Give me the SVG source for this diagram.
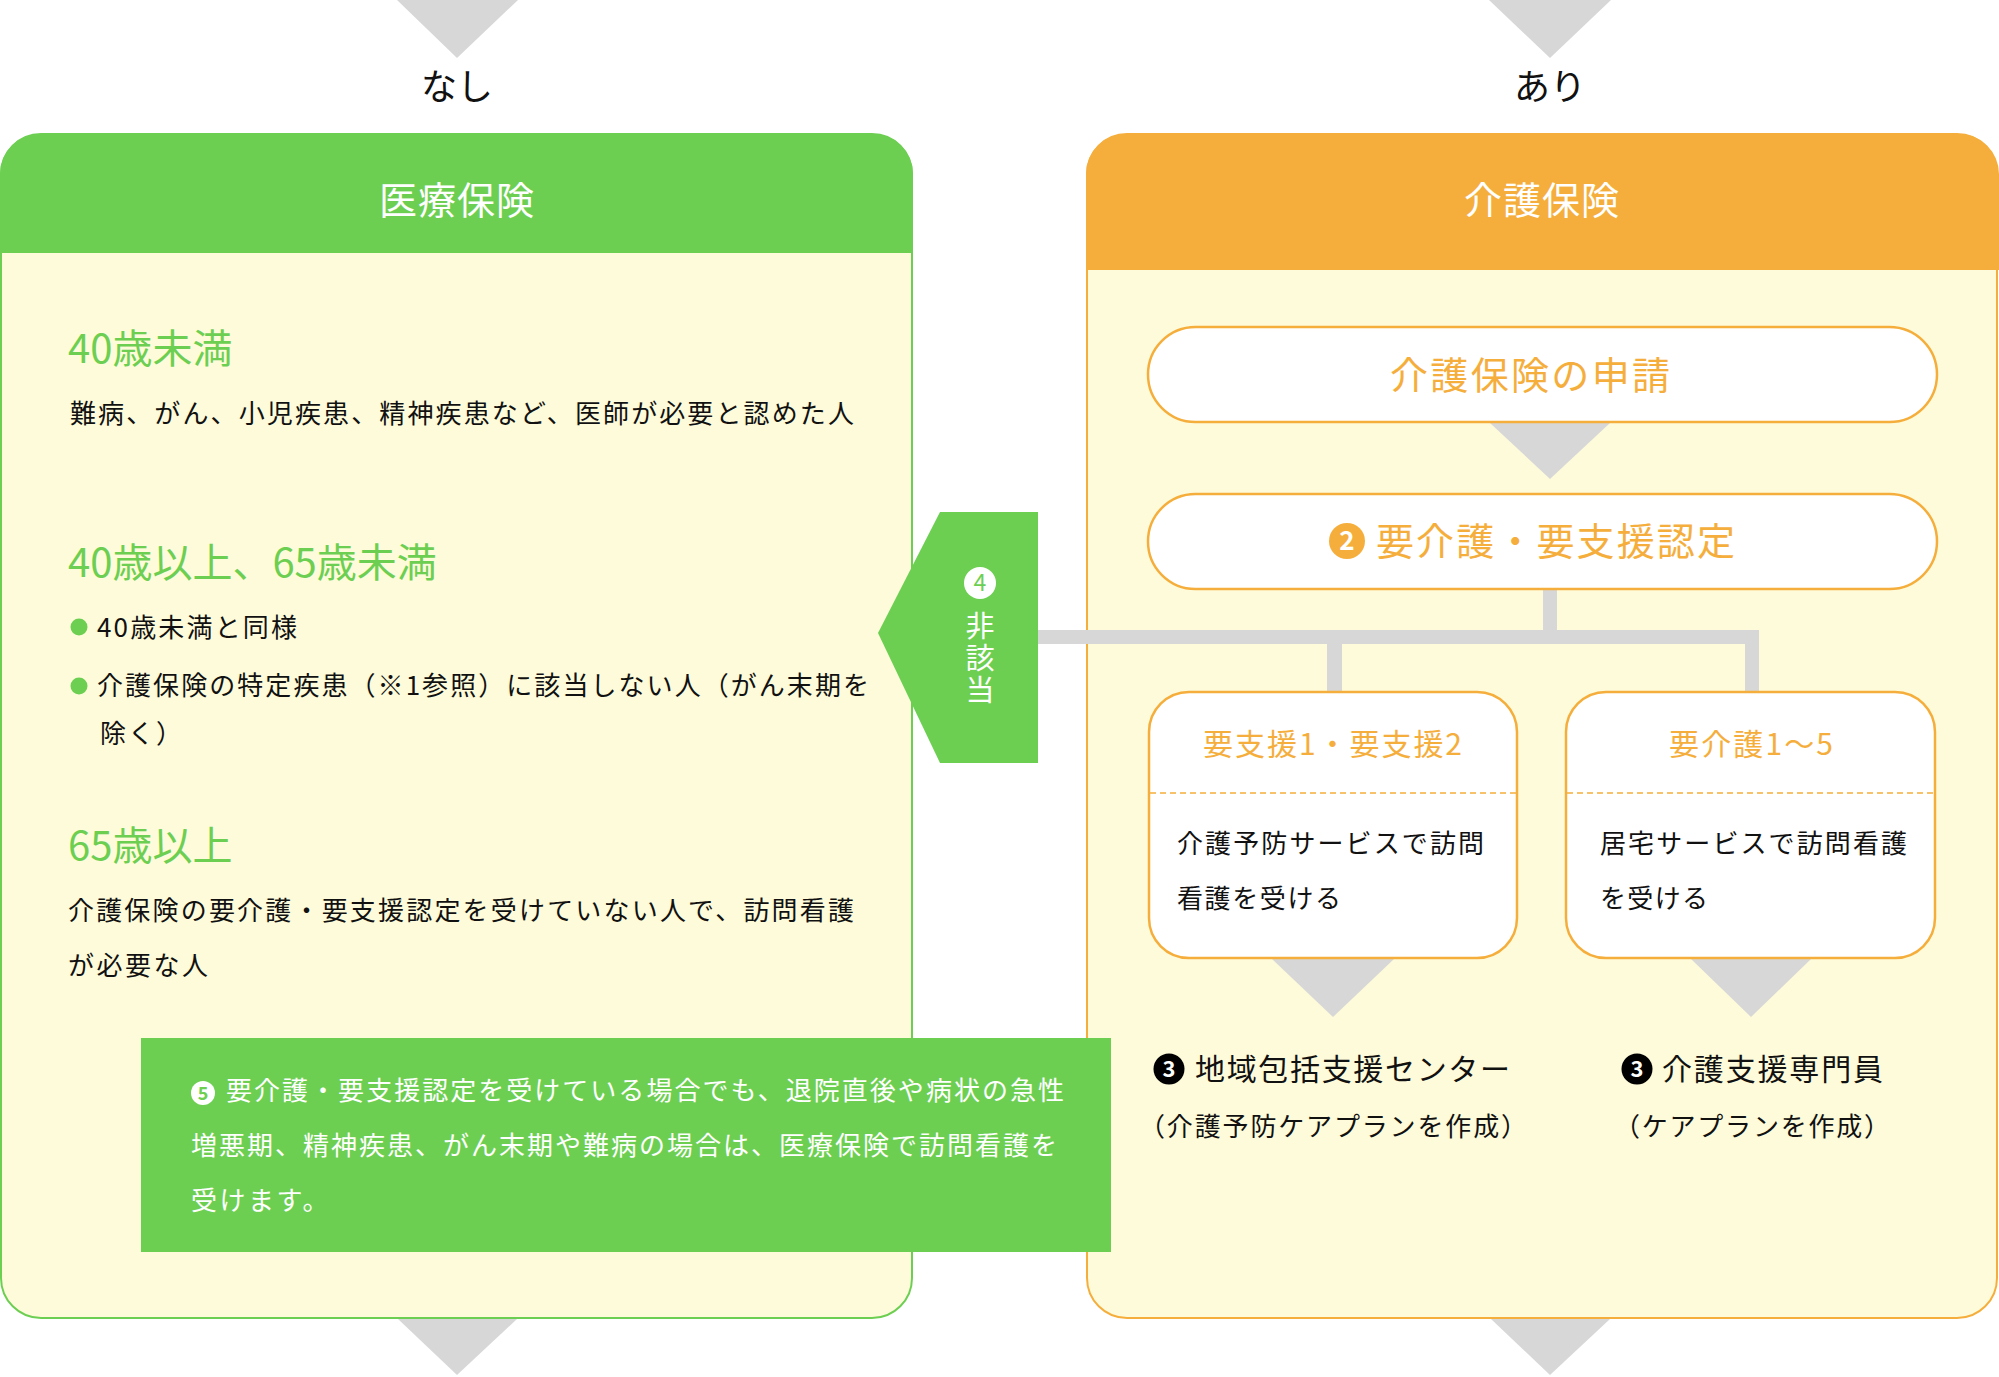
<svg xmlns="http://www.w3.org/2000/svg" width="1999" height="1377" viewBox="0 0 1999 1377">
<style>
text{font-family:"Noto Sans CJK JP","Noto Sans",sans-serif;}
.tri{fill:#d7d7d7;}
.bar{fill:#d7d7d7;}
.body{font-size:26px;fill:#111;}
.gttl{font-size:40px;fill:#6dcf52;}
.hdr{font-size:38px;fill:#fff;}
.top{font-size:36px;fill:#111;text-anchor:middle;}
.otl{font-size:38px;fill:#f5ae3c;}
.sttl{font-size:30px;fill:#f5ae3c;}
.lbl{font-size:30px;fill:#111;}
.wt{font-size:26px;fill:#fff;}
.pill{fill:#fff;stroke:#f5ae3c;stroke-width:2.5;}
.card{fill:#fff;stroke:#f5ae3c;stroke-width:2.5;}
.dash{stroke:#f5ae3c;stroke-width:1.5;stroke-dasharray:6 4;fill:none;}
.num{text-anchor:middle;font-weight:bold;}
</style>

<g id="top-arrows">
<polygon class="tri" points="397,0 518,0 457,58"/>
<polygon class="tri" points="1489,0 1611,0 1550,58"/>
<text class="top" x="457" y="100">なし</text>
<text class="top" x="1550" y="100">あり</text>
</g>

<g id="medical-insurance">
<rect x="1" y="134" width="911" height="1184" rx="40" ry="40" fill="#fefbda" stroke="#6dcf52" stroke-width="2"/>
<path d="M0,253 V174 A40,40 0 0 1 40,134 H873 A40,40 0 0 1 913,174 V253 Z" fill="#6dcf52"/>
<text class="hdr" x="457" y="214" text-anchor="middle" letter-spacing="1">医療保険</text>
<text class="gttl" x="68" y="363">40歳未満</text>
<text class="body" x="70" y="423" textLength="784">難病、がん、小児疾患、精神疾患など、医師が必要と認めた人</text>
<text class="gttl" x="68" y="577">40歳以上、65歳未満</text>
<circle cx="79" cy="627" r="8.5" fill="#6dcf52"/>
<text class="body" x="97" y="637" textLength="200">40歳未満と同様</text>
<circle cx="79" cy="686" r="8.5" fill="#6dcf52"/>
<text class="body" x="97" y="695" textLength="772">介護保険の特定疾患（※1参照）に該当しない人（がん末期を</text>
<text class="body" x="100" y="743" letter-spacing="2">除く）</text>
<text class="gttl" x="68" y="860">65歳以上</text>
<text class="body" x="68" y="920" textLength="786">介護保険の要介護・要支援認定を受けていない人で、訪問看護</text>
<text class="body" x="68" y="975" letter-spacing="2.5">が必要な人</text>
</g>

<g id="care-insurance">
<rect x="1087" y="134" width="910" height="1184" rx="40" ry="40" fill="#fefbda" stroke="#f5ae3c" stroke-width="2"/>
<path d="M1086,270 V174 A40,40 0 0 1 1126,134 H1959 A40,40 0 0 1 1999,174 V270 Z" fill="#f5ae3c"/>
<text class="hdr" x="1542" y="214" text-anchor="middle" letter-spacing="1">介護保険</text>
</g>

<g id="bottom-arrows">
<polygon class="tri" points="398,1319 517,1319 457,1375"/>
<polygon class="tri" points="1491,1319 1610,1319 1550,1375"/>
</g>

<g id="connectors">
<rect class="bar" x="1036" y="630" width="723" height="14"/>
<rect class="bar" x="1543" y="589" width="14" height="42"/>
<rect class="bar" x="1327" y="643" width="15" height="50"/>
<rect class="bar" x="1745" y="643" width="14" height="50"/>
<polygon class="tri" points="1490,423 1610,423 1550,479"/>
<polygon class="tri" points="1272,959 1394,959 1333,1017"/>
<polygon class="tri" points="1691,959 1811,959 1751,1017"/>
</g>

<g id="application">
<rect class="pill" x="1148" y="327" width="789" height="95" rx="47.5" ry="47.5"/>
<text class="otl" x="1390" y="389" textLength="280">介護保険の申請</text>
</g>

<g id="certification">
<rect class="pill" x="1148" y="494" width="789" height="95" rx="47.5" ry="47.5"/>
<circle cx="1347" cy="541" r="18" fill="#f5ae3c"/>
<text class="num" x="1347" y="550" font-size="26" fill="#fff">2</text>
<text class="otl" x="1376" y="555" textLength="359">要介護・要支援認定</text>
</g>

<g id="support-levels">
<rect class="card" x="1149" y="692" width="368" height="266" rx="40" ry="40"/>
<line class="dash" x1="1150" y1="793" x2="1516" y2="793"/>
<text class="sttl" x="1203" y="755" textLength="259">要支援1・要支援2</text>
<text class="body" x="1177" y="853" textLength="307">介護予防サービスで訪問</text>
<text class="body" x="1177" y="908" textLength="164">看護を受ける</text>
</g>

<g id="care-levels">
<rect class="card" x="1566" y="692" width="369" height="266" rx="40" ry="40"/>
<line class="dash" x1="1567" y1="793" x2="1934" y2="793"/>
<text class="sttl" x="1669" y="755" textLength="164">要介護1〜5</text>
<text class="body" x="1600" y="853" textLength="307">居宅サービスで訪問看護</text>
<text class="body" x="1600" y="908" textLength="108">を受ける</text>
</g>

<g id="regional-center">
<circle cx="1169" cy="1069" r="15.5" fill="#000"/>
<text class="num" x="1169" y="1077" font-size="22" fill="#fff">3</text>
<text class="lbl" x="1195" y="1080" textLength="315">地域包括支援センター</text>
<text class="body" x="1139" y="1136" textLength="388">（介護予防ケアプランを作成）</text>
</g>

<g id="care-manager">
<circle cx="1637" cy="1069" r="15.5" fill="#000"/>
<text class="num" x="1637" y="1077" font-size="22" fill="#fff">3</text>
<text class="lbl" x="1662" y="1080" textLength="221">介護支援専門員</text>
<text class="body" x="1614" y="1136" textLength="276">（ケアプランを作成）</text>
</g>

<g id="not-applicable">
<polygon points="940,512 1038,512 1038,763 940,763 878,633" fill="#6dcf52"/>
<circle cx="980" cy="583" r="16" fill="#fff"/>
<text x="980" y="591" font-size="23" fill="#6dcf52" text-anchor="middle">4</text>
<text x="980" y="611" font-size="29" fill="#fff" writing-mode="vertical-rl" letter-spacing="3">非該当</text>
</g>

<g id="note">
<rect x="141" y="1038" width="970" height="214" fill="#6dcf52"/>
<circle cx="203" cy="1093" r="12" fill="#fff"/>
<text class="num" x="203" y="1100" font-size="18" fill="#6dcf52">5</text>
<text class="wt" x="226" y="1100" textLength="838">要介護・要支援認定を受けている場合でも、退院直後や病状の急性</text>
<text class="wt" x="191" y="1155" textLength="866">増悪期、精神疾患、がん末期や難病の場合は、医療保険で訪問看護を</text>
<text class="wt" x="191" y="1210" letter-spacing="2.5">受けます。</text>
</g>
</svg>
